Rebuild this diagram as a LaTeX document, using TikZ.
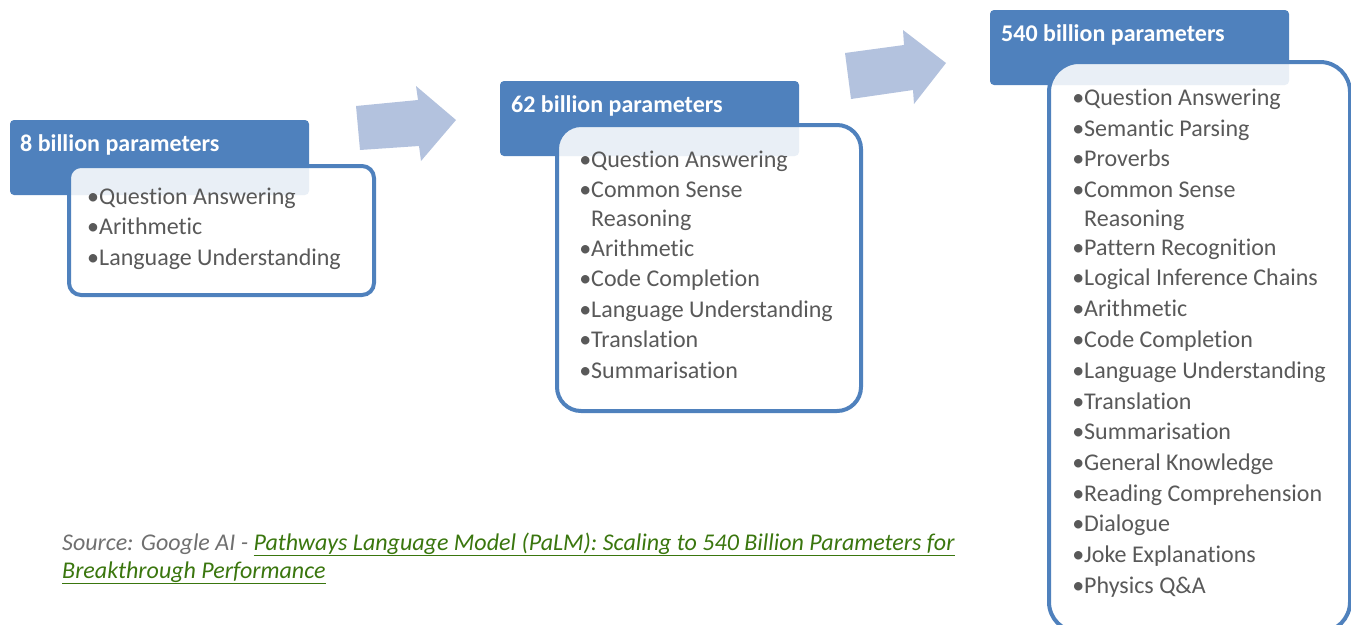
\documentclass[tikz,border=0pt]{standalone}
\usepackage{fontspec}
\setmainfont{Carlito}[Ligatures=NoCommon]
\definecolor{hdr}{RGB}{79,129,189}
\definecolor{arr}{RGB}{179,194,222}
\definecolor{itm}{RGB}{89,89,89}
\definecolor{lnk}{RGB}{58,118,14}
\definecolor{src}{RGB}{112,112,112}
\begin{document}
\begin{tikzpicture}[x=1pt,y=-1pt,
  hdrbox/.style={fill=hdr, rounded corners=4pt, inner sep=0pt, outer sep=0pt, anchor=north west, minimum width=299pt, minimum height=75pt},
  listbox/.style={draw=hdr, line width=4pt, fill=white, fill opacity=0.88, draw opacity=1, inner sep=0pt, outer sep=0pt, anchor=north west},
  hdrtext/.style={anchor=base west, inner sep=0pt, text=white, font=\fontsize{24}{28}\selectfont\bfseries},
  item/.style={anchor=base west, inner sep=0pt, text=itm, font=\fontsize{24}{29}\selectfont, align=left},
  blockarrow/.style={fill=arr},
  srctext/.style={anchor=base west, inner sep=0pt, text=src, font=\fontsize{24}{28}\selectfont\itshape, align=left}]
\useasboundingbox (0,0) rectangle (1351,624);
% block arrows
\fill[blockarrow] (356,106) -- (418,100) -- (416,86) -- (456,120) -- (421,161) -- (419,146) -- (360,150) -- cycle;
\fill[blockarrow] (845,53) -- (904,45) -- (903,30) -- (946,63) -- (914,104) -- (913,90) -- (851,99) -- cycle;
% headers
\node[hdrbox] (hA) at (10,120) {};
\node[hdrbox] (hB) at (500,81) {};
\node[hdrbox] (hC) at (990,10) {};
\node[hdrtext] (tA) at (20,151) {8 billion parameters};
\node[hdrtext] (tB) at (511,112) {62 billion parameters};
\node[hdrtext] (tC) at (1001,41) {540 billion parameters};
% list boxes
\node[listbox, rounded corners=12pt, minimum width=305pt, minimum height=129pt] (lA) at (69,166) {};
\node[listbox, rounded corners=24pt, minimum width=304pt, minimum height=286pt] (lB) at (557,125) {};
\node[listbox, rounded corners=30pt, minimum width=301pt, minimum height=570pt] (lC) at (1049,62) {};
% items A
\node[item] (a1) at (99,204) {\llap{•}Question Answering};
\node[item] (a2) at (99,234) {\llap{•}Arithmetic};
\node[item] (a3) at (99,265) {\llap{•}Language Understanding};
% items B
\node[item] (b1) at (591,167) {\llap{•}Question Answering};
\node[item] (b2) at (591,226) {\llap{•}Common Sense\\Reasoning};
\node[item] (b3) at (591,256) {\llap{•}Arithmetic};
\node[item] (b4) at (591,286) {\llap{•}Code Completion};
\node[item] (b5) at (591,317) {\llap{•}Language Understanding};
\node[item] (b6) at (591,347) {\llap{•}Translation};
\node[item] (b7) at (591,378) {\llap{•}Summarisation};
% items C
\node[item] (c1) at (1084,105) {\llap{•}Question Answering};
\node[item] (c2) at (1084,136) {\llap{•}Semantic Parsing};
\node[item] (c3) at (1084,166) {\llap{•}Proverbs};
\node[item] (c4) at (1084,226) {\llap{•}Common Sense\\Reasoning};
\node[item] (c5) at (1084,255) {\llap{•}Pattern Recognition};
\node[item] (c6) at (1084,285) {\llap{•}Logical Inference Chains};
\node[item] (c7) at (1084,316) {\llap{•}Arithmetic};
\node[item] (c8) at (1084,347) {\llap{•}Code Completion};
\node[item] (c9) at (1084,378) {\llap{•}Language Understanding};
\node[item] (c10) at (1084,409) {\llap{•}Translation};
\node[item] (c11) at (1084,439) {\llap{•}Summarisation};
\node[item] (c12) at (1084,470) {\llap{•}General Knowledge};
\node[item] (c13) at (1084,501) {\llap{•}Reading Comprehension};
\node[item] (c14) at (1084,531) {\llap{•}Dialogue};
\node[item] (c15) at (1084,562) {\llap{•}Joke Explanations};
\node[item] (c16) at (1084,593) {\llap{•}Physics Q\&A};
% source
\node[srctext] (src) at (62,578) {Source: Google AI - \textcolor{lnk}{\underline{Pathways Language Model (PaLM): Scaling to 540 Billion Parameters for}}\\\textcolor{lnk}{\underline{Breakthrough Performance}}};
\end{tikzpicture}
\end{document}
